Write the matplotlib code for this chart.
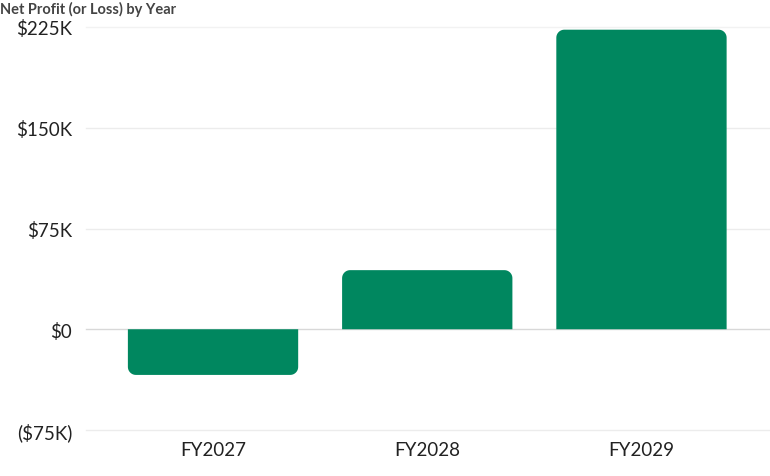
import numpy as np
import matplotlib.pyplot as plt
from matplotlib.patches import PathPatch
from matplotlib.path import Path

plt.rcParams['font.family'] = ['Lato', 'DejaVu Sans']

# --- data (thousands of dollars) ---
years = ['FY2027', 'FY2028', 'FY2029']
net_profit = [-34, 44, 223]
tick_values = [-75, 0, 75, 150, 225]
tick_labels = ['($75K)', '$0', '$75K', '$150K', '$225K']
title = 'Net Profit (or Loss) by Year'

bar_color = '#00875f'
bar_width = 0.795
corner_px = 8

fig = plt.figure(figsize=(7.7, 4.77), dpi=100)
ax = fig.add_axes([86 / 770, 46 / 477, 1 - 86 / 770, (431 - 28) / 477])
ax.set_xlim(-0.593, 2.60)
ax.set_ylim(-75, 225)

# pixels per data unit, for round corners that stay circular
fig.canvas.draw()
bb = ax.get_window_extent()
px_x = bb.width / (ax.get_xlim()[1] - ax.get_xlim()[0])
px_y = bb.height / (ax.get_ylim()[1] - ax.get_ylim()[0])
rx = corner_px / px_x
ry = corner_px / px_y


def rounded_bar(xc, v):
    x0, x1 = xc - bar_width / 2, xc + bar_width / 2
    s = np.sign(v) if v != 0 else 1
    t = np.linspace(0, np.pi / 2, 12)
    pts = [(x0, 0), (x0, v - s * ry)]
    # left corner
    for a in t:
        pts.append((x0 + rx - rx * np.cos(a), v - s * ry + s * ry * np.sin(a)))
    # right corner
    for a in t[::-1]:
        pts.append((x1 - rx + rx * np.cos(a), v - s * ry + s * ry * np.sin(a)))
    pts += [(x1, 0), (x0, 0)]
    return Path(pts)


for i, v in enumerate(net_profit):
    ax.add_patch(PathPatch(rounded_bar(i, v), facecolor=bar_color,
                           edgecolor='none', zorder=3, clip_on=False))

for tv in tick_values:
    if tv == 225:
        col = '#f2f2f2'
    elif tv == 0:
        col = '#d8d8d8'
    else:
        col = '#ececec'
    ax.axhline(tv, color=col, lw=1, zorder=1, clip_on=False)

ax.set_yticks(tick_values)
ax.set_yticklabels(tick_labels)
ax.set_xticks(range(len(years)))
ax.set_xticklabels(years)
ax.tick_params(axis='y', length=0, pad=10, labelsize=13.5, labelcolor='#222222')
ax.tick_params(axis='x', length=0, pad=8, labelsize=13.5, labelcolor='#222222')
for sp in ax.spines.values():
    sp.set_visible(False)

fig.text(0.0, 1 - 9 / 477, title, ha='left', va='center', fontsize=10.5,
         fontweight='bold', color='#444444')

fig.savefig('out.png', dpi=100)
